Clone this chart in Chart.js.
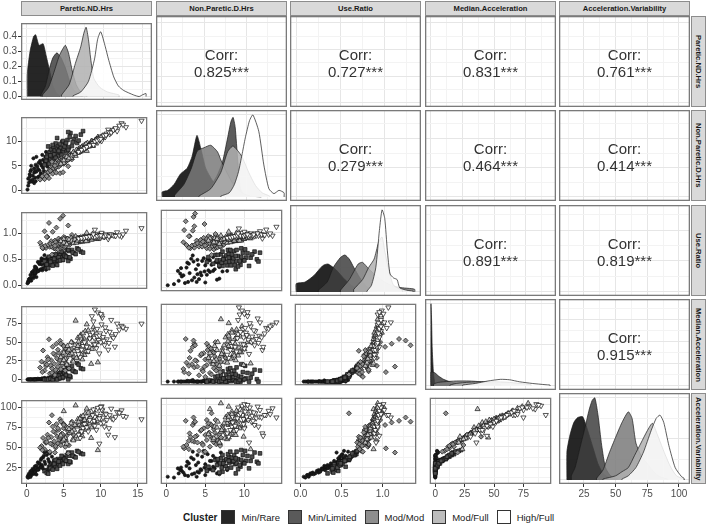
<!DOCTYPE html>
<html lang="en">
<head>
<meta charset="UTF-8">
<title>Cluster pairs plot</title>
<script src="https://cdn.jsdelivr.net/npm/chart.js"></script>
<style>
  body { margin: 0; background: #fff; font-family: 'Liberation Sans', Arial, sans-serif; }
  #wrap { position: relative; width: 708px; height: 526px; overflow: hidden; }
  .cell { position: absolute; }
  .strip { position: absolute; box-sizing: border-box; background: #d9d9d9; border: 1px solid #8c8c8c;
           font-weight: bold; font-size: 7.6px; color: #1a1a1a; display: flex; align-items: center;
           justify-content: center; white-space: nowrap; }
  .strip.right { writing-mode: vertical-rl; }
  .corr { position: absolute; display: flex; flex-direction: column; align-items: center; justify-content: center;
          font-size: 15px; line-height: 17px; color: #333; padding-top: 3px; box-sizing: border-box; }
  .legend { position: absolute; top: 509px; left: 183px; height: 16px; display: flex; align-items: center;
            font-size: 9.5px; color: #1a1a1a; }
  .legend b { font-size: 10px; margin-right: 4px; }
  .key { width: 12px; height: 12px; border: 1px solid #333; margin: 0 6px 0 0; }
  .legend span.lab { margin-right: 8px; }
</style>
</head>
<body>
<div id="wrap"></div>
<script>
// variables and clusters
const variables = ['Paretic.ND.Hrs', 'Non.Paretic.D.Hrs', 'Use.Ratio', 'Median.Acceleration', 'Acceleration.Variability'];
const clusters = ['Min/Rare', 'Min/Limited', 'Mod/Mod', 'Mod/Full', 'High/Full'];

// one list per cluster, same subject order in every variable
const pareticNDHrs = [
  [0.1,0.2,0.3,0.4,0.5,0.6,0.7,0.8,0.9,1.0,1.1,1.2,1.3,1.4,1.5,1.6,1.7,1.8,1.9,2.0,2.1,2.2,2.4,2.5,2.7,2.9,3.1,3.4,3.7,1.0,
   0.2,0.4,0.6,0.8,1.0,1.2,1.3,1.5,1.7,1.9,2.0,2.2,2.3,2.6,2.8,3.0,3.2,0.5,1.1,2.4],
  [2.6,2.8,3.0,3.1,3.2,3.3,3.4,3.5,3.6,3.7,3.8,3.9,4.0,4.1,4.2,4.3,4.4,4.5,4.6,4.8,4.9,5.0,5.2,5.4,5.5,5.7,5.9,6.1,6.4,6.8,7.3,5.6,
   2.4,2.7,2.9,3.2,3.5,3.7,3.9,4.1,4.3,4.5,4.7,4.9,5.1,5.3,5.6,5.8,6.2,6.6,7.0,7.6],
  [2.0,2.2,2.4,2.6,2.8,3.0,3.1,3.3,3.4,3.5,3.7,3.8,3.9,4.0,4.1,4.2,4.3,4.4,4.5,4.6,4.7,4.8,4.9,5.0,5.1,5.2,5.4,5.6,5.8,6.1,3.4,
   1.8,2.1,2.5,2.9,3.2,3.6,3.9,4.2,4.5,4.8,5.0,5.3,5.5,5.7,6.0,6.3,2.7,3.8,4.6,5.2],
  [4.8,5.2,5.5,5.8,6.0,6.2,6.4,6.6,6.8,6.9,7.0,7.1,7.2,7.3,7.4,7.5,7.6,7.7,7.8,7.9,8.0,8.1,8.2,8.4,8.5,8.7,8.9,9.2,9.6,5.0,
   4.6,5.0,5.4,5.7,6.1,6.3,6.5,6.7,7.0,7.2,7.4,7.6,7.8,8.0,8.3,8.6,8.8,9.0,9.4,6.9],
  [7.2,7.6,8.0,8.3,8.6,8.8,9.0,9.1,9.3,9.4,9.5,9.6,9.7,9.8,9.9,10.0,10.2,10.3,10.5,10.6,10.8,11.0,11.2,11.5,11.9,12.2,12.8,13.4,15.5,9.2,10.1,
   7.0,7.4,7.8,8.1,8.5,8.9,9.2,9.5,9.8,10.1,10.4,10.7,11.1,11.4,11.7,12.0,12.5,13.0,9.0,10.0]
];
const nonPareticDHrs = [
  [0.2,2.4,1.6,3.3,2.0,4.2,1.8,3.0,6.5,4.5,2.6,5.2,3.8,4.9,2.7,5.6,4.1,6.0,3.5,5.0,7.2,4.6,5.8,6.8,5.3,6.3,7.0,6.0,7.5,1.5,
   1.0,2.8,5.0,2.2,3.6,1.9,6.8,4.4,2.9,5.4,3.2,6.2,4.0,7.8,4.8,5.6,6.6,3.9,4.0,3.4],
  [6.0,7.2,5.4,7.8,6.5,8.3,6.9,7.6,8.8,6.3,8.1,9.5,7.4,8.5,7.0,9.0,8.2,7.7,8.6,9.8,8.0,8.4,9.2,7.9,10.2,8.7,11.6,9.0,10.4,9.6,11.3,11.8,
   5.2,6.8,8.9,7.1,9.2,7.3,6.6,10.6,8.0,9.4,7.2,10.0,8.9,9.6,8.2,10.8,9.8,11.0,10.1,12.0],
  [2.6,3.1,2.3,3.6,3.0,2.5,4.2,3.9,4.6,3.4,5.2,4.4,5.6,3.6,5.0,6.1,4.8,5.9,3.5,6.4,5.5,6.6,3.7,6.0,7.0,5.7,6.8,4.9,7.4,6.3,5.8,
   2.2,2.9,3.3,3.7,4.0,4.5,4.7,5.3,5.6,6.2,5.4,6.5,6.1,6.9,7.2,7.6,2.9,5.0,5.2,6.9],
  [6.0,6.4,6.2,7.0,6.6,7.5,7.2,7.0,8.0,7.6,8.4,7.8,8.6,7.9,8.3,8.9,8.2,8.5,9.2,8.4,8.8,8.0,9.6,8.9,9.3,9.9,9.0,10.1,10.8,5.6,
   5.4,6.1,6.8,6.5,7.1,7.8,7.4,8.2,7.9,8.0,8.7,8.4,8.8,9.4,9.0,9.5,10.0,9.7,10.4,8.0],
  [8.0,8.4,8.6,9.0,9.2,9.4,9.6,9.9,9.8,10.0,10.3,9.7,10.5,10.6,10.2,10.9,10.4,11.0,11.3,10.8,11.5,12.3,11.4,11.9,12.4,12.0,13.6,12.8,14.1,9.3,10.0,
   7.8,8.2,8.5,8.8,9.1,9.5,9.9,10.1,10.3,10.7,11.1,11.2,11.8,11.7,12.2,12.6,13.1,13.3,9.2,10.4]
];
const useRatio = [
  [0.04,0.08,0.12,0.13,0.20,0.15,0.25,0.26,0.14,0.22,0.36,0.23,0.33,0.29,0.45,0.28,0.41,0.30,0.47,0.40,0.29,0.48,0.41,0.37,0.51,0.46,0.44,0.55,0.49,0.30,
   0.06,0.10,0.09,0.22,0.18,0.35,0.16,0.27,0.43,0.31,0.52,0.33,0.50,0.30,0.53,0.49,0.45,0.10,0.24,0.58],
  [0.43,0.39,0.55,0.40,0.49,0.40,0.49,0.46,0.41,0.59,0.47,0.41,0.54,0.48,0.60,0.48,0.54,0.58,0.53,0.49,0.61,0.60,0.57,0.68,0.54,0.66,0.51,0.68,0.62,0.71,0.65,0.47,
   0.46,0.40,0.33,0.45,0.38,0.51,0.59,0.39,0.54,0.48,0.65,0.49,0.57,0.55,0.68,0.54,0.63,0.60,0.69,0.63],
  [0.77,0.71,1.04,0.72,0.93,1.20,0.74,0.85,0.74,1.03,0.71,0.86,0.70,1.11,0.82,0.69,0.90,0.75,1.28,0.72,0.85,0.73,1.34,0.83,0.73,0.91,0.79,1.15,0.78,0.97,0.59,
   0.82,0.72,0.76,0.78,0.80,0.80,0.83,0.79,0.80,0.77,0.93,0.82,0.90,0.83,0.83,0.83,0.93,0.76,0.88,0.75],
  [0.80,0.81,0.89,0.83,0.91,0.83,0.89,0.94,0.85,0.91,0.83,0.91,0.84,0.92,0.89,0.84,0.93,0.91,0.85,0.94,0.91,1.01,0.85,0.94,0.91,0.88,0.99,0.91,0.89,0.89,
   0.85,0.82,0.79,0.88,0.86,0.81,0.88,0.82,0.89,0.90,0.85,0.90,0.89,0.85,0.92,0.91,0.88,0.93,0.90,0.86],
  [0.90,0.90,0.93,0.92,0.93,0.94,0.94,0.92,0.95,0.94,0.92,0.99,0.92,0.92,0.97,0.92,0.98,0.94,0.93,0.98,0.94,0.89,0.98,0.97,0.96,1.02,0.94,1.05,1.10,1.07,1.01,
   0.90,0.91,0.92,0.93,0.94,0.94,0.93,0.95,0.96,0.95,0.94,0.96,0.94,0.98,0.96,0.95,0.96,0.98,0.98,0.96]
];
const medianAcceleration = [
  [0,0,0,0,0,0,0,0,0,0,0,0.5,0,0,1.0,0,0,0.5,0,0,1.5,0,2.0,0,1.0,0,2.5,0,3.0,0,
   0,0,0,0,0,0,0,0,0.5,0,1.0,0,0,0,1.5,0,0.5,0,0,2.0],
  [0,0,2,0,1,0.5,3,0,1.5,6,2,0,4,3,8,1,5,9,6,2,12,10,7,16,4,14,3,18,11,22,15,0,
   0,0,0,1,0,4,7,0,5,2,13,3,9,6,17,5,12,10,20,14],
  [24,39,12,18,30,54,8,26,15,44,21,33,11,48,28,17,36,23,52,14,31,20,46,38,25,42,29,19,34,50,9,
   16,10,22,27,19,35,13,40,26,32,45,22,37,15,41,30,20,6,48,12],
  [22,28,45,33,50,25,38,79,42,56,30,47,35,60,44,27,52,40,33,65,48,74,37,55,43,21,62,46,23,36,
   30,26,20,40,35,24,46,29,51,58,33,62,54,38,66,57,41,70,50,45],
  [30,45,52,38,60,85,48,56,66,42,58,90,53,35,62,50,83,57,46,70,54,40,64,58,44,75,72,68,75,94,86,
   34,40,50,44,55,63,47,68,59,74,52,65,49,80,56,61,67,70,78,88]
];
const accelerationVariability = [
  [14,16,18,17,21,19,22,24,18,22,27,21,28,25,32,23,31,26,35,29,27,38,33,30,41,36,43,39,34,24,
   13,15,16,19,18,25,17,23,30,26,37,24,40,22,45,33,31,14,20,44],
  [22,20,26,24,28,25,30,27,29,34,31,26,33,32,36,30,34,35,33,31,38,37,35,41,33,40,32,44,39,46,43,30,
   21,19,18,25,23,30,35,24,33,28,40,30,36,34,44,33,40,38,45,42],
  [52,62,48,56,66,81,45,63,54,76,58,69,50,79,64,55,72,60,85,53,67,58,80,74,61,77,65,43,70,82,90,
   50,47,57,62,55,70,52,74,63,67,78,58,71,53,75,66,57,44,82,51],
  [58,62,74,68,80,60,72,102,76,85,66,78,70,88,77,64,83,79,73,92,81,98,75,86,80,62,90,82,47,95,
   65,60,55,73,70,59,78,64,82,86,69,89,84,72,93,87,75,96,83,61],
  [62,74,80,70,86,95,78,83,88,72,85,99,82,55,89,80,96,87,76,92,84,66,90,86,63,94,96,88,85,88,101,
   66,70,79,75,84,90,77,92,86,97,81,91,74,98,85,88,93,89,97,100]
];

// density curves (x grid and height, per cluster)
const densPareticX = [
  [0.04,0.4,0.87,1.13,1.57,2.1,2.5,3.0,3.4,3.9,4.3],
  [1.8,2.4,3.0,3.4,3.9,4.4,5.0,5.5,6.0,6.6,7.2],
  [2.0,2.8,3.5,4.2,4.7,5.0,5.4,5.9,6.4,7.0,7.8],
  [4.5,5.5,6.3,7.0,7.4,7.7,8.0,8.3,8.7,9.5,10.5,12.0],
  [6.0,7.0,8.0,8.8,9.2,9.6,10.2,10.6,11.3,11.9,12.6,13.9,14.6,15.0,15.5]
];
const densPareticY = [
  [0.15,0.30,0.40,0.41,0.34,0.35,0.27,0.16,0.07,0.02,0.005],
  [0.01,0.07,0.20,0.26,0.29,0.26,0.19,0.11,0.05,0.02,0.005],
  [0.01,0.06,0.16,0.27,0.32,0.34,0.29,0.17,0.08,0.03,0.01],
  [0.01,0.08,0.22,0.33,0.42,0.46,0.38,0.25,0.12,0.06,0.03,0.01],
  [0.005,0.03,0.10,0.25,0.38,0.43,0.33,0.25,0.13,0.07,0.04,0.01,0.0,0.01,0.02]
];
const densNonPareticX = [
  [0.03,0.7,1.43,2.2,3.0,3.6,4.16,4.6,5.2,6.0,7.0,8.0],
  [4.5,5.5,6.5,7.2,7.8,8.2,8.45,8.7,9.0,9.3,9.7,10.5,11.8],
  [1.5,2.6,3.5,4.2,5.0,5.8,6.6,7.0,7.7,8.5,9.5,10.5],
  [4.4,5.8,7.0,7.8,8.45,9.45,10.3,11.1,11.9,12.8],
  [7.0,8.0,8.6,9.1,9.5,9.9,10.4,10.8,11.5,12.1,12.7,13.3,13.9,14.5]
];
const densNonPareticY = [
  [0.06,0.08,0.15,0.28,0.35,0.50,0.75,0.60,0.35,0.20,0.08,0.02],
  [0.02,0.10,0.25,0.43,0.72,0.92,0.97,0.85,0.45,0.12,0.03,0.01,0.0],
  [0.02,0.15,0.35,0.56,0.60,0.63,0.55,0.45,0.30,0.15,0.05,0.01],
  [0.01,0.10,0.30,0.55,0.62,0.50,0.30,0.14,0.05,0.01],
  [0.01,0.05,0.15,0.31,0.51,0.72,0.93,1.0,0.80,0.39,0.10,0.04,0.08,0.05]
];
const densUseRatioX = [
  [0.0,0.1,0.2,0.3,0.36,0.45,0.55,0.65,0.75],
  [0.25,0.35,0.42,0.5,0.55,0.6,0.65,0.72,0.8,0.9],
  [0.5,0.6,0.7,0.75,0.82,0.9,1.0,1.1,1.2,1.3,1.34],
  [0.65,0.75,0.82,0.88,0.93,0.97,1.0,1.05,1.1,1.2],
  [0.8,0.85,0.9,0.94,0.97,1.0,1.03,1.06,1.1,1.14,1.17,1.25,1.32]
];
const densUseRatioY = [
  [0.10,0.12,0.20,0.32,0.34,0.27,0.15,0.06,0.01],
  [0.02,0.12,0.30,0.42,0.45,0.40,0.30,0.17,0.06,0.01],
  [0.02,0.15,0.34,0.36,0.28,0.20,0.12,0.07,0.05,0.04,0.03],
  [0.03,0.15,0.30,0.40,0.60,0.67,0.50,0.25,0.08,0.02],
  [0.01,0.08,0.30,0.75,1.0,0.90,0.50,0.22,0.17,0.15,0.05,0.02,0.01]
];
const densMedianAccX = [
  [0,0.5,1,2,3],
  [0,3,6,10,15,20,25,30],
  [2,5,10,20,30,40,50,55],
  [15,20,30,40,50,60,70,79],
  [25,35,45,55,62,70,80,90,94]
];
const densMedianAccY = [
  [1.0,0.80,0.45,0.15,0.03],
  [0.17,0.16,0.12,0.08,0.05,0.03,0.015,0.005],
  [0.02,0.04,0.05,0.06,0.06,0.05,0.03,0.02],
  [0.01,0.03,0.045,0.05,0.05,0.045,0.03,0.015],
  [0.01,0.03,0.06,0.08,0.075,0.05,0.03,0.015,0.01]
];
const densAccVarX = [
  [11.5,14,17,20,24,28,32,36,40,45],
  [15,18,22,26,29,31.5,33.6,36,39,42,46,52],
  [35,40,45,50,55,60,63,66,70,75,80,85,91],
  [40,50,55,60,65,70,75,79,83,88,93,98,104],
  [55,60,66,72,78,82,85,88,92,97,102,104]
];
const densAccVarY = [
  [0.34,0.55,0.70,0.76,0.77,0.60,0.40,0.20,0.08,0.02],
  [0.05,0.15,0.40,0.65,0.85,0.97,1.0,0.80,0.42,0.15,0.05,0.01],
  [0.02,0.12,0.33,0.52,0.70,0.83,0.75,0.45,0.30,0.20,0.10,0.04,0.01],
  [0.01,0.05,0.10,0.15,0.30,0.45,0.60,0.69,0.55,0.35,0.17,0.05,0.01],
  [0.01,0.05,0.15,0.34,0.60,0.75,0.79,0.70,0.42,0.15,0.04,0.02]
];

// correlation labels for the upper panels: [row, col, text]
const corrLabels = [
  [0,1,'0.825***'],[0,2,'0.727***'],[0,3,'0.831***'],[0,4,'0.761***'],
  [1,2,'0.279***'],[1,3,'0.464***'],[1,4,'0.414***'],
  [2,3,'0.891***'],[2,4,'0.819***'],
  [3,4,'0.915***']
];

// axis breaks
const majorTicks = [[0,5,10,15],[0,5,10],[0,0.5,1],[0,25,50,75],[25,50,75,100]];
const minorTicks = [[2.5,7.5,12.5],[2.5,7.5,12.5],[0.25,0.75,1.25],[12.5,37.5,62.5,87.5],[12.5,37.5,62.5,87.5]];
const densMajor = [[0,0.1,0.2,0.3,0.4],[0,0.5,1],[0,0.6],[0,0.5,1],[0,0.5,1]];
const densMinor = [[0.05,0.15,0.25,0.35,0.45],[0.25,0.75],[0.3,0.9],[0.25,0.75],[0.25,0.75]];

const values = [pareticNDHrs, nonPareticDHrs, useRatio, medianAcceleration, accelerationVariability];
const densX = [densPareticX, densNonPareticX, densUseRatioX, densMedianAccX, densAccVarX];
const densY = [densPareticY, densNonPareticY, densUseRatioY, densMedianAccY, densAccVarY];

// layout / style
const ranges = [[-0.78,16.28],[-0.7,14.85],[-0.07,1.41],[-4.7,98.7],[5.3,108.7]];
const densRange = [[-0.023,0.488],[-0.05,1.06],[-0.05,1.06],[-0.05,1.06],[-0.05,1.06]];
const colLeft = [21, 156, 290, 425, 559];
const rowTop = [16, 110, 205, 299, 393];
const PW = 131, PH = 91, YAXW = 21, XAXH = 17;
const FONT = "'Liberation Sans', Arial, sans-serif";
const densFill = ['rgba(0,0,0,0.85)','rgba(64,64,64,0.85)','rgba(122,122,122,0.85)','rgba(176,176,176,0.85)','rgba(255,255,255,0.85)'];
const pointFill = ['#1a1a1a','#4d4d4d','#8c8c8c','#c4c4c4','#ffffff'];
const keyFill = ['#262626','#5a5a5a','#8e8e8e','#bcbcbc','#ffffff'];
const pointStyle = ['circle','rect','rectRot','triangle','triangle'];
const pointRadius = [1.6, 2.6, 2.5, 3.0, 3.0];
const pointRotation = [0, 0, 0, 0, 180];

const fmt = [v => String(v), v => String(v), v => v.toFixed(1), v => String(v), v => String(v)];

const panelBorder = {
  id: 'panelBorder',
  afterDraw(chart) {
    const a = chart.chartArea, ctx = chart.ctx;
    ctx.save();
    ctx.strokeStyle = '#7a7a7a';
    ctx.lineWidth = 1.3;
    ctx.strokeRect(a.left + 0.65, a.top + 0.65, a.right - a.left - 1.3, a.bottom - a.top - 1.3);
    ctx.restore();
  }
};

function axis(min, max, majors, minors, format, showLabels, horizontal) {
  const isMajor = v => majors.some(m => Math.abs(m - v) < 1e-9);
  return {
    type: 'linear', min: min, max: max,
    afterBuildTicks: s => { s.ticks = majors.concat(minors).filter(v => v >= min && v <= max).map(v => ({ value: v })); },
    afterFit: s => { if (horizontal) s.height = showLabels ? XAXH : 0; else s.width = showLabels ? YAXW : 0; },
    ticks: {
      display: showLabels, autoSkip: false, maxRotation: 0, padding: 1,
      color: '#4d4d4d', font: { family: FONT, size: 10 },
      callback: v => isMajor(v) ? format(v) : ''
    },
    grid: {
      color: c => (c.tick && isMajor(c.tick.value)) ? '#e6e6e6' : '#f3f3f3',
      lineWidth: 1,
      drawTicks: showLabels, tickLength: 3,
      tickColor: c => (c.tick && isMajor(c.tick.value)) ? '#333' : 'rgba(0,0,0,0)'
    },
    border: { display: false }
  };
}

const wrap = document.getElementById('wrap');

function makePanel(r, c) {
  const leftAxis = c === 0, bottomAxis = r === 4;
  const div = document.createElement('div');
  div.className = 'cell';
  div.style.left = (colLeft[c] - (leftAxis ? YAXW : 0)) + 'px';
  div.style.top = rowTop[r] + 'px';
  div.style.width = (PW + (leftAxis ? YAXW : 0)) + 'px';
  div.style.height = (PH + (bottomAxis ? XAXH : 0)) + 'px';
  const cv = document.createElement('canvas');
  div.appendChild(cv);
  wrap.appendChild(div);

  const xScale = axis(ranges[c][0], ranges[c][1], majorTicks[c], minorTicks[c], fmt[c], bottomAxis, true);
  let yScale;
  const datasets = [];
  let type = 'scatter';

  if (r === c) {
    type = 'line';
    yScale = axis(densRange[r][0], densRange[r][1], densMajor[r], densMinor[r], v => v.toFixed(1), leftAxis, false);
    for (let k = 0; k < clusters.length; k++) {
      const xs = densX[c][k], ys = densY[c][k];
      const pts = [{ x: xs[0], y: 0 }];
      xs.forEach((x, i) => pts.push({ x: x, y: ys[i] }));
      pts.push({ x: xs[xs.length - 1], y: 0 });
      datasets.push({
        label: clusters[k], data: pts, fill: 'origin', tension: 0.2,
        backgroundColor: densFill[k], borderColor: '#1a1a1a', borderWidth: 0.7,
        pointRadius: 0, order: clusters.length - k
      });
    }
  } else {
    yScale = axis(ranges[r][0], ranges[r][1], majorTicks[r], minorTicks[r], fmt[r], leftAxis, false);
    if (r > c) {
      for (let k = 0; k < clusters.length; k++) {
        datasets.push({
          label: clusters[k],
          data: values[c][k].map((x, i) => ({ x: x, y: values[r][k][i] })),
          pointStyle: pointStyle[k], pointRadius: pointRadius[k], pointRotation: pointRotation[k],
          backgroundColor: pointFill[k], borderColor: '#111', borderWidth: 0.7,
          order: clusters.length - k
        });
      }
    }
  }

  new Chart(cv, {
    type: type,
    data: { datasets: datasets },
    options: {
      responsive: true, maintainAspectRatio: false, animation: false, devicePixelRatio: 1,
      events: [],
      layout: { padding: 0 },
      scales: { x: xScale, y: yScale },
      plugins: { legend: { display: false }, tooltip: { enabled: false } }
    },
    plugins: [panelBorder]
  });

  if (r < c) {
    const item = corrLabels.find(e => e[0] === r && e[1] === c);
    const t = document.createElement('div');
    t.className = 'corr';
    t.style.left = colLeft[c] + 'px';
    t.style.top = rowTop[r] + 'px';
    t.style.width = PW + 'px';
    t.style.height = PH + 'px';
    t.innerHTML = '<div>Corr:</div><div>' + item[2] + '</div>';
    wrap.appendChild(t);
  }
}

for (let r = 0; r < 5; r++) for (let c = 0; c < 5; c++) makePanel(r, c);

// facet strips
variables.forEach((name, i) => {
  const top = document.createElement('div');
  top.className = 'strip';
  top.style.left = colLeft[i] + 'px';
  top.style.top = '1px';
  top.style.width = PW + 'px';
  top.style.height = '15px';
  top.textContent = name;
  wrap.appendChild(top);
  const side = document.createElement('div');
  side.className = 'strip right';
  side.style.left = '691px';
  side.style.top = rowTop[i] + 'px';
  side.style.width = '15px';
  side.style.height = PH + 'px';
  side.textContent = name;
  wrap.appendChild(side);
});

// legend
const lg = document.createElement('div');
lg.className = 'legend';
let html = '<b>Cluster</b>';
clusters.forEach((name, k) => {
  html += '<div class="key" style="background:' + keyFill[k] + '"></div><span class="lab">' + name + '</span>';
});
lg.innerHTML = html;
wrap.appendChild(lg);
</script>
</body>
</html>
